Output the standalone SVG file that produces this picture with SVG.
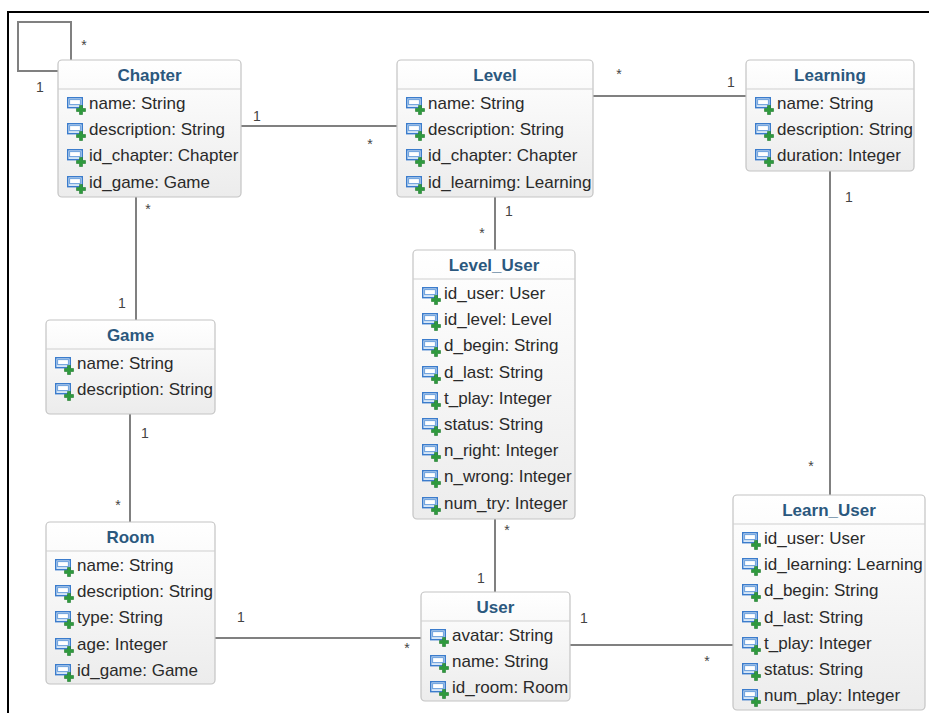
<svg xmlns="http://www.w3.org/2000/svg" xmlns:xlink="http://www.w3.org/1999/xlink" width="929" height="713" viewBox="0 0 929 713">
<style>
.box{fill:url(#bodyGrad);stroke:#c4c4c4;stroke-width:1.2}
.sep{stroke:#cfcfcf;stroke-width:1}
.title{font-family:"Liberation Sans",Arial,sans-serif;font-size:17px;font-weight:bold;fill:#2b587e;text-anchor:middle}
.attr{font-family:"Liberation Sans",Arial,sans-serif;font-size:17px;fill:#2a2a2a}
.conn{fill:none;stroke:#808080;stroke-width:2}
.mult{font-family:"Liberation Sans",Arial,sans-serif;font-size:14px;fill:#444;text-anchor:middle}
</style>
<defs>
<linearGradient id="bodyGrad" x1="0" y1="0" x2="0" y2="1">
<stop offset="0" stop-color="#ffffff"/>
<stop offset="1" stop-color="#ececec"/>
</linearGradient>
<symbol id="ico" viewBox="0 0 20 17" overflow="visible">
<rect x="0.7" y="0.7" width="14.6" height="10" fill="#d6e6f7" stroke="#3b7ccc" stroke-width="1.4"/>
<rect x="2.6" y="2.6" width="10.8" height="5" fill="#ffffff" stroke="#6a9fdc" stroke-width="1"/>
<path d="M12.5 8.5h3v3h3v3h-3v3h-3v-3h-3v-3h3z" fill="#2e9a3d" stroke="#1f7a2d" stroke-width="0.6"/>
</symbol>
</defs>
<rect x="0" y="0" width="929" height="713" fill="#ffffff"/>
<path d="M8 713V12H929" fill="none" stroke="#000" stroke-width="2"/>

<g id="connectors">
<path class="conn" d="M71 60V22H18V71H58"/>
<path class="conn" d="M241 126H397"/>
<path class="conn" d="M593 96H746"/>
<path class="conn" d="M136 197V320"/>
<path class="conn" d="M130 414V522"/>
<path class="conn" d="M495 197V250"/>
<path class="conn" d="M495 519V592"/>
<path class="conn" d="M830 171V495"/>
<path class="conn" d="M215 638H421"/>
<path class="conn" d="M570 645H733"/>
<text class="mult" x="84" y="50">*</text>
<text class="mult" x="40" y="92">1</text>
<text class="mult" x="257" y="121">1</text>
<text class="mult" x="370" y="149">*</text>
<text class="mult" x="619" y="79">*</text>
<text class="mult" x="731" y="87">1</text>
<text class="mult" x="148" y="214">*</text>
<text class="mult" x="122" y="308">1</text>
<text class="mult" x="145" y="438">1</text>
<text class="mult" x="118" y="510">*</text>
<text class="mult" x="509" y="216">1</text>
<text class="mult" x="482" y="238">*</text>
<text class="mult" x="507" y="535">*</text>
<text class="mult" x="481" y="583">1</text>
<text class="mult" x="849" y="202">1</text>
<text class="mult" x="811" y="471">*</text>
<text class="mult" x="241" y="622">1</text>
<text class="mult" x="407" y="653">*</text>
<text class="mult" x="584" y="623">1</text>
<text class="mult" x="707" y="666">*</text>
</g>

<g id="Chapter">
<rect class="box" x="58" y="60" width="183" height="137" rx="4"/>
<line class="sep" x1="58" y1="89" x2="241" y2="89"/>
<text class="title" x="149.5" y="81">Chapter</text>
<use href="#ico" x="67" y="97" width="20" height="17"/><text class="attr" x="89" y="109">name: String</text>
<use href="#ico" x="67" y="123" width="20" height="17"/><text class="attr" x="89" y="135">description: String</text>
<use href="#ico" x="67" y="149" width="20" height="17"/><text class="attr" x="89" y="161">id_chapter: Chapter</text>
<use href="#ico" x="67" y="176" width="20" height="17"/><text class="attr" x="89" y="188">id_game: Game</text>
</g>

<g id="Level">
<rect class="box" x="397" y="60" width="196" height="137" rx="4"/>
<line class="sep" x1="397" y1="89" x2="593" y2="89"/>
<text class="title" x="495" y="81">Level</text>
<use href="#ico" x="406" y="97" width="20" height="17"/><text class="attr" x="428" y="109">name: String</text>
<use href="#ico" x="406" y="123" width="20" height="17"/><text class="attr" x="428" y="135">description: String</text>
<use href="#ico" x="406" y="149" width="20" height="17"/><text class="attr" x="428" y="161">id_chapter: Chapter</text>
<use href="#ico" x="406" y="176" width="20" height="17"/><text class="attr" x="428" y="188">id_learnimg: Learning</text>
</g>

<g id="Learning">
<rect class="box" x="746" y="60" width="168" height="111" rx="4"/>
<line class="sep" x1="746" y1="89" x2="914" y2="89"/>
<text class="title" x="830" y="81">Learning</text>
<use href="#ico" x="755" y="97" width="20" height="17"/><text class="attr" x="777" y="109">name: String</text>
<use href="#ico" x="755" y="123" width="20" height="17"/><text class="attr" x="777" y="135">description: String</text>
<use href="#ico" x="755" y="149" width="20" height="17"/><text class="attr" x="777" y="161">duration: Integer</text>
</g>

<g id="Level_User">
<rect class="box" x="413" y="250" width="162" height="269" rx="4"/>
<line class="sep" x1="413" y1="279" x2="575" y2="279"/>
<text class="title" x="494" y="271">Level_User</text>
<use href="#ico" x="422" y="287" width="20" height="17"/><text class="attr" x="444" y="299">id_user: User</text>
<use href="#ico" x="422" y="313" width="20" height="17"/><text class="attr" x="444" y="325">id_level: Level</text>
<use href="#ico" x="422" y="339" width="20" height="17"/><text class="attr" x="444" y="351">d_begin: String</text>
<use href="#ico" x="422" y="366" width="20" height="17"/><text class="attr" x="444" y="378">d_last: String</text>
<use href="#ico" x="422" y="392" width="20" height="17"/><text class="attr" x="444" y="404">t_play: Integer</text>
<use href="#ico" x="422" y="418" width="20" height="17"/><text class="attr" x="444" y="430">status: String</text>
<use href="#ico" x="422" y="444" width="20" height="17"/><text class="attr" x="444" y="456">n_right: Integer</text>
<use href="#ico" x="422" y="470" width="20" height="17"/><text class="attr" x="444" y="482">n_wrong: Integer</text>
<use href="#ico" x="422" y="497" width="20" height="17"/><text class="attr" x="444" y="509">num_try: Integer</text>
</g>

<g id="Game">
<rect class="box" x="46" y="320" width="169" height="94" rx="4"/>
<line class="sep" x1="46" y1="349" x2="215" y2="349"/>
<text class="title" x="130.5" y="341">Game</text>
<use href="#ico" x="55" y="357" width="20" height="17"/><text class="attr" x="77" y="369">name: String</text>
<use href="#ico" x="55" y="383" width="20" height="17"/><text class="attr" x="77" y="395">description: String</text>
</g>

<g id="Room">
<rect class="box" x="46" y="522" width="169" height="162" rx="4"/>
<line class="sep" x1="46" y1="551" x2="215" y2="551"/>
<text class="title" x="130.5" y="543">Room</text>
<use href="#ico" x="55" y="559" width="20" height="17"/><text class="attr" x="77" y="571">name: String</text>
<use href="#ico" x="55" y="585" width="20" height="17"/><text class="attr" x="77" y="597">description: String</text>
<use href="#ico" x="55" y="611" width="20" height="17"/><text class="attr" x="77" y="623">type: String</text>
<use href="#ico" x="55" y="638" width="20" height="17"/><text class="attr" x="77" y="650">age: Integer</text>
<use href="#ico" x="55" y="664" width="20" height="17"/><text class="attr" x="77" y="676">id_game: Game</text>
</g>

<g id="User">
<rect class="box" x="421" y="592" width="149" height="109" rx="4"/>
<line class="sep" x1="421" y1="621" x2="570" y2="621"/>
<text class="title" x="495.5" y="613">User</text>
<use href="#ico" x="430" y="629" width="20" height="17"/><text class="attr" x="452" y="641">avatar: String</text>
<use href="#ico" x="430" y="655" width="20" height="17"/><text class="attr" x="452" y="667">name: String</text>
<use href="#ico" x="430" y="681" width="20" height="17"/><text class="attr" x="452" y="693">id_room: Room</text>
</g>

<g id="Learn_User">
<rect class="box" x="733" y="495" width="192" height="215" rx="4"/>
<line class="sep" x1="733" y1="524" x2="925" y2="524"/>
<text class="title" x="829" y="516">Learn_User</text>
<use href="#ico" x="742" y="532" width="20" height="17"/><text class="attr" x="764" y="544">id_user: User</text>
<use href="#ico" x="742" y="558" width="20" height="17"/><text class="attr" x="764" y="570">id_learning: Learning</text>
<use href="#ico" x="742" y="584" width="20" height="17"/><text class="attr" x="764" y="596">d_begin: String</text>
<use href="#ico" x="742" y="611" width="20" height="17"/><text class="attr" x="764" y="623">d_last: String</text>
<use href="#ico" x="742" y="637" width="20" height="17"/><text class="attr" x="764" y="649">t_play: Integer</text>
<use href="#ico" x="742" y="663" width="20" height="17"/><text class="attr" x="764" y="675">status: String</text>
<use href="#ico" x="742" y="689" width="20" height="17"/><text class="attr" x="764" y="701">num_play: Integer</text>
</g>
</svg>
